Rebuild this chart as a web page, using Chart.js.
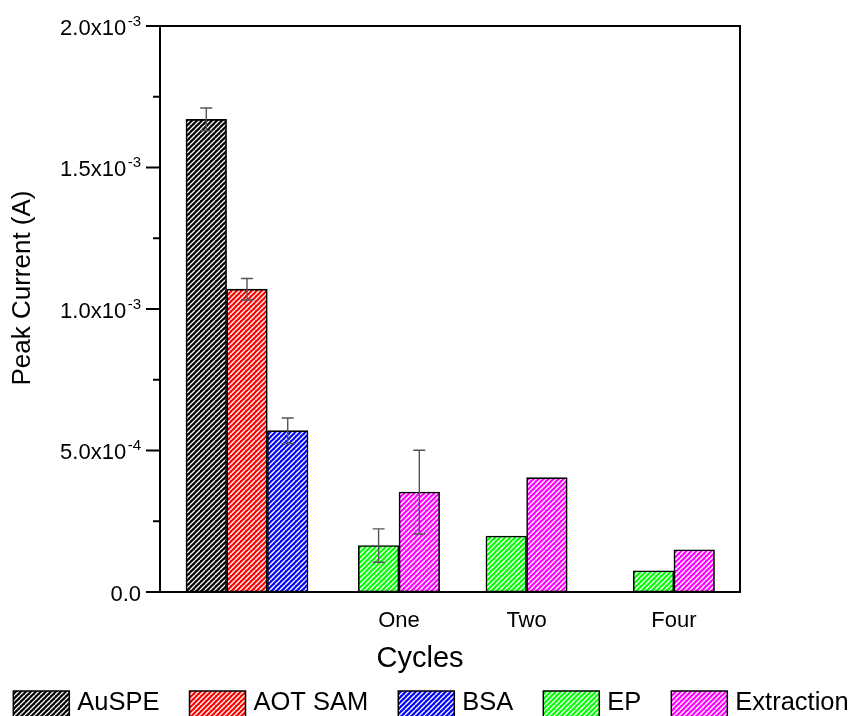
<!DOCTYPE html>
<html><head><meta charset="utf-8">
<script src="https://cdn.jsdelivr.net/npm/chart.js@4.4.1/dist/chart.umd.min.js"></script>
<style>html,body{margin:0;padding:0;background:#fff}#wrap{width:851px;height:716px}</style>
</head><body><div id="wrap"><canvas id="c" width="851" height="716"></canvas></div>
<script>
// ---------- data ----------
const groups = ['', 'One', 'Two', 'Four'];
const seriesNames = ['AuSPE', 'AOT SAM', 'BSA', 'EP', 'Extraction'];
const auspe         = [1.67e-3, null, null, null];
const auspeErr      = [0.040e-3, null, null, null];
const aotSam        = [1.07e-3, null, null, null];
const aotSamErr     = [0.038e-3, null, null, null];
const bsa           = [0.57e-3, null, null, null];
const bsaErr        = [0.045e-3, null, null, null];
const ep            = [null, 0.164e-3, 0.198e-3, 0.075e-3];
const epErr         = [null, 0.059e-3, null, null];
const extraction    = [null, 0.353e-3, 0.404e-3, 0.149e-3];
const extractionErr = [null, 0.148e-3, null, null];
const yTickStep = 0.5e-3;
const yMax = 2.0e-3;
const xTitle = 'Cycles';
const yTitle = 'Peak Current (A)';

// ---------- layout / style ----------
const groupCenters = [15.0, 41.2, 63.2, 88.6];   // x-axis units (0..100)
const barUnit = 7.02;                             // bar width in x-axis units
const seriesColors = ['#000000', '#ff0000', '#0000ff', '#00ff00', '#ff00ff'];
const FONT = '"Liberation Sans", Arial, sans-serif';

function hatch(color, p, lw) {
  const c = document.createElement('canvas'); c.width = p; c.height = p;
  const g = c.getContext('2d');
  g.fillStyle = color; g.fillRect(0, 0, p, p);
  g.strokeStyle = '#ffffff'; g.lineWidth = lw;
  g.beginPath();
  for (let k = -1; k <= 1; k++) { g.moveTo(k * p, p); g.lineTo(k * p + p, 0); }
  g.stroke();
  return g.createPattern(c, 'repeat');
}

const allValues = [auspe, aotSam, bsa, ep, extraction];
const allErrors = [auspeErr, aotSamErr, bsaErr, epErr, extractionErr];

const datasets = seriesNames.map((name, si) => {
  const data = [], errors = [];
  allValues[si].forEach((v, gi) => {
    if (v == null) return;
    const present = allValues.map((s, k) => s[gi] != null ? k : -1).filter(k => k >= 0);
    const j = present.indexOf(si);
    const off = (j - (present.length - 1) / 2) * barUnit;
    data.push({ x: groupCenters[gi] + off, y: v });
    errors.push(allErrors[si][gi]);
  });
  return {
    label: name, data, errors,
    backgroundColor: hatch(seriesColors[si], 5, si === 0 ? 1.3 : 1.4),
    borderColor: '#000', borderWidth: 1.6, borderSkipped: false,
    barThickness: 40.6, grouped: false
  };
});

const deco = {
  id: 'deco',
  afterDatasetsDraw(chart) {
    const { ctx, chartArea: a, scales: { x, y } } = chart;
    // error bars
    chart.data.datasets.forEach((ds, di) => {
      const meta = chart.getDatasetMeta(di);
      ds.errors.forEach((e, i) => {
        if (e == null) return;
        const bar = meta.data[i];
        const v = ds.data[i].y;
        const yt = y.getPixelForValue(v + e), yb = y.getPixelForValue(v - e);
        ctx.save(); ctx.strokeStyle = '#555'; ctx.lineWidth = 1.4;
        ctx.beginPath();
        ctx.moveTo(bar.x, yt); ctx.lineTo(bar.x, yb);
        ctx.moveTo(bar.x - 6, yt); ctx.lineTo(bar.x + 6, yt);
        ctx.moveTo(bar.x - 6, yb); ctx.lineTo(bar.x + 6, yb);
        ctx.stroke(); ctx.restore();
      });
    });
    // frame
    ctx.save();
    ctx.strokeStyle = '#000'; ctx.lineWidth = 2;
    ctx.strokeRect(a.left, a.top, a.right - a.left, a.bottom - a.top);
    // y ticks (major + minor)
    const ticks = y.ticks.map(t => t.value);
    ctx.beginPath();
    ticks.forEach((v, i) => {
      const py = y.getPixelForValue(v);
      ctx.moveTo(a.left - 14, py); ctx.lineTo(a.left, py);
      if (i < ticks.length - 1) {
        const pm = y.getPixelForValue((v + ticks[i + 1]) / 2);
        ctx.moveTo(a.left - 7, pm); ctx.lineTo(a.left, pm);
      }
    });
    ctx.stroke();
    // y tick labels with superscript exponent
    ctx.fillStyle = '#000';
    const rightEdge = a.left - 19;
    ticks.forEach(v => {
      const py = y.getPixelForValue(v);
      let mant, expo = '';
      if (v === 0) { mant = '0.0'; }
      else {
        const e = Math.floor(Math.log10(v) + 1e-9);
        mant = (v / Math.pow(10, e)).toFixed(1) + 'x10';
        expo = String(e);
      }
      ctx.textAlign = 'right'; ctx.textBaseline = 'alphabetic';
      let xr = rightEdge;
      if (expo) {
        ctx.font = '15px ' + FONT;
        ctx.fillText(expo, xr, py - 0.5);
        xr -= ctx.measureText(expo).width + 1.5;
      }
      ctx.font = '22px ' + FONT;
      ctx.fillText(mant, xr, py + 8.5);
    });
    ctx.restore();
  },
  afterDraw(chart) {
    const { ctx, chartArea: a } = chart;
    ctx.save();
    ctx.fillStyle = '#000';
    // axis titles
    ctx.font = '29px ' + FONT; ctx.textAlign = 'center'; ctx.textBaseline = 'alphabetic';
    ctx.fillText(xTitle, 420, 667);
    ctx.save();
    ctx.translate(23, 288); ctx.rotate(-Math.PI / 2);
    ctx.font = '26px ' + FONT; ctx.textBaseline = 'middle';
    ctx.fillText(yTitle, 0, 0);
    ctx.restore();
    // legend
    ctx.font = '25.5px ' + FONT;
    const boxW = 56, boxH = 28, gapT = 8, gapI = 30;
    const widths = chart.data.datasets.map(d => boxW + gapT + ctx.measureText(d.label).width);
    const total = widths.reduce((s, w) => s + w, 0) + gapI * (widths.length - 1);
    let lx = 431 - total / 2;
    const top = 691;
    chart.data.datasets.forEach((d, i) => {
      ctx.fillStyle = d.backgroundColor;
      ctx.fillRect(lx, top, boxW, boxH);
      ctx.strokeStyle = '#000'; ctx.lineWidth = 1.5;
      ctx.strokeRect(lx, top, boxW, boxH);
      ctx.fillStyle = '#000'; ctx.textAlign = 'left'; ctx.textBaseline = 'alphabetic';
      ctx.fillText(d.label, lx + boxW + gapT, 710);
      lx += widths[i] + gapI;
    });
    ctx.restore();
  }
};

new Chart(document.getElementById('c'), {
  type: 'bar',
  data: { datasets },
  options: {
    responsive: false, animation: false, events: [],
    layout: { padding: { left: 0, top: 26, right: 111, bottom: 0 } },
    plugins: { legend: { display: false }, tooltip: { enabled: false } },
    scales: {
      x: {
        type: 'linear', min: 0, max: 100, offset: false,
        grid: { display: false, drawTicks: false }, border: { display: false },
        afterFit: s => { s.height = 124; },
        afterBuildTicks: s => { s.ticks = groupCenters.map(v => ({ value: v })); },
        ticks: {
          autoSkip: false, maxRotation: 0, padding: 16, color: '#000',
          font: { size: 22, family: FONT },
          callback: (v, i) => groups[i]
        }
      },
      y: {
        min: 0, max: yMax,
        grid: { display: false, drawTicks: false }, border: { display: false },
        afterFit: s => { s.width = 160; },
        ticks: { stepSize: yTickStep, display: false }
      }
    }
  },
  plugins: [deco]
});
</script></body></html>
